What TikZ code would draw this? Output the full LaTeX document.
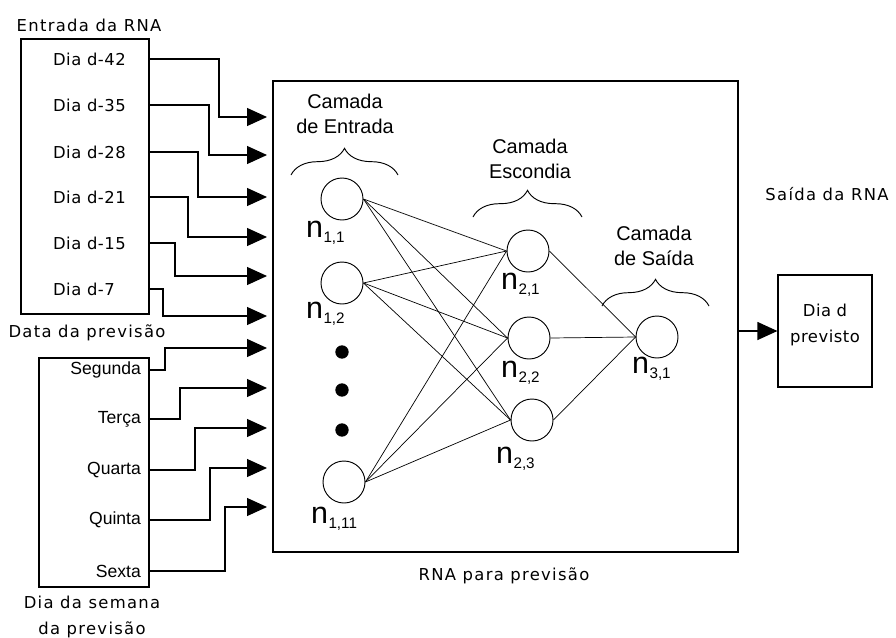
\documentclass[tikz,border=0pt]{standalone}
\usepackage{fontspec}
\setmainfont{Liberation Sans}
\newfontfamily\pixfont{DejaVu Sans}[LetterSpace=8]
\newfontfamily\pixboxfont{DejaVu Sans}[LetterSpace=3]
\usetikzlibrary{arrows.meta, fit, decorations.pathreplacing}

\newcommand{\neurlab}[1]{{\fontsize{26}{26}\selectfont n}\kern0.3pt\raisebox{-0.16cm}{\fontsize{13}{13}\selectfont #1}}

\begin{document}
\begin{tikzpicture}[x=0.03cm, y=-0.03cm, >={Triangle[length=0.6cm,width=0.54cm]},
	framebox/.style={draw, line width=1pt, inner sep=0pt},
	pixlbl/.style={font=\pixfont\fontsize{14}{22}\selectfont},
	boxlbl/.style={font=\pixboxfont\fontsize{14}{22}\selectfont},
	daylbl/.style={font=\fontsize{15}{18}\selectfont},
	feed/.style={line width=1pt, ->},
	neuron/.style={circle, draw, line width=0.8pt, minimum size=1.26cm, inner sep=0pt},
	synapse/.style={line width=0.6pt},
	layerlbl/.style={align=center, font=\fontsize{17}{21}\selectfont},
	layerbrace/.style={decorate, decoration={brace, amplitude=0.8cm}, line width=0.8pt},
	nlab/.style={anchor=base west, inner sep=0pt}]

	\useasboundingbox (0,0) rectangle (896,637);

	% entradas: data da previsao
	\node[pixlbl] (tin) at (89,25) {Entrada da RNA};
	\node[framebox, fit={(21,39) (149,314)}] (datebox) {};
	\foreach \txt/\yy [count=\i] in {Dia d-42/59, Dia d-35/105, Dia d-28/152, Dia d-21/197, Dia d-15/243, Dia d-7/289}
		\node[boxlbl, anchor=west] (in\i) at (49,\yy) {\txt};
	\node[pixlbl] (tdate) at (87,333) {Data da previsão};

	% entradas: dia da semana
	\node[framebox, fit={(39,358) (149,587)}] (weekbox) {};
	\foreach \txt/\yy [count=\i] in {Segunda/370, Terça/419, Quarta/470, Quinta/520, Sexta/571}
		\node[daylbl, anchor=east] (wd\i) at (145,\yy) {\txt};
	\node[pixlbl, align=center] (tweek) at (92,617) {Dia da semana\\da previsão};

	% rede
	\node[framebox, fit={(273,81) (738,552)}] (rna) {};
	\node[pixlbl] (trna) at (504,576) {RNA para previsão};

	\foreach \yy/\bx [count=\i] in {117/219, 155/209, 197/198, 237/188, 276/175, 316/163}{
		\coordinate (k\i) at (\bx,\yy);
		\coordinate (t\i) at (267,\yy);
		\draw[feed] (in\i.east -| datebox.east) -| (k\i) -- (t\i);
	}
	\foreach \yy/\bx [count=\i] in {348/165, 388/180, 428/195, 468/210, 507/225}{
		\coordinate (kw\i) at (\bx,\yy);
		\coordinate (tw\i) at (267,\yy);
		\draw[feed] (wd\i.east -| weekbox.east) -| (kw\i) -- (tw\i);
	}

	\node[neuron] (n11) at (342,199) {};
	\node[neuron] (n12) at (342,283) {};
	\node[neuron] (n1k) at (344,482) {};
	\node[neuron] (n21) at (528,251) {};
	\node[neuron] (n22) at (529,338) {};
	\node[neuron] (n23) at (532,420) {};
	\node[neuron] (n31) at (657,337) {};
	\foreach \yy in {352,390,430}
		\fill (342,\yy) circle (0.2cm);

	\node[nlab] (l11) at (306,237) {\neurlab{1,1}};
	\node[nlab] (l12) at (306,318) {\neurlab{1,2}};
	\node[nlab] (l1k) at (311,523) {\neurlab{1,11}};
	\node[nlab] (l21) at (501,289) {\neurlab{2,1}};
	\node[nlab] (l22) at (501,377) {\neurlab{2,2}};
	\node[nlab] (l23) at (496,463) {\neurlab{2,3}};
	\node[nlab] (l31) at (632,373) {\neurlab{3,1}};

	\foreach \a in {n11,n12,n1k}
		\foreach \b in {n21,n22,n23}
			\draw[synapse] (\a.east) -- (\b.west);
	\foreach \b in {n21,n22,n23}
		\draw[synapse] (\b.east) -- (n31.west);

	% camadas
	\node[layerlbl] (cin) at (345,114) {Camada\\de Entrada};
	\node[layerlbl] (chid) at (530,159) {Camada\\Escondia};
	\node[layerlbl] (cout) at (654,246) {Camada\\de Saída};
	\draw[layerbrace] (291,175) -- (398,175);
	\draw[layerbrace] (473,217) -- (582,217);
	\draw[layerbrace] (602,306) -- (709,306);

	% saida
	\node[pixlbl] (tout) at (827,194) {Saída da RNA};
	\node[framebox, fit={(778,275) (872,387)}, boxlbl, align=center] (outbox) {Dia d\\previsto};
	\draw[feed] (rna.east |- outbox.west) -- (outbox.west);

\end{tikzpicture}
\end{document}
